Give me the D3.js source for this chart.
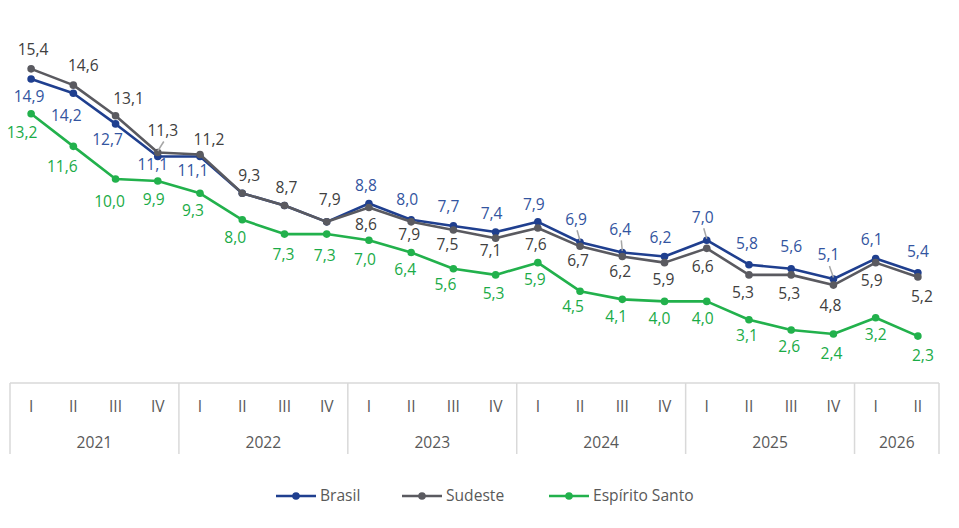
<!DOCTYPE html>
<html><head><meta charset="utf-8">
<script src="https://cdn.jsdelivr.net/npm/d3@7"></script>
<style>
html,body{margin:0;padding:0;background:#fff;}
svg{display:block;font-family:"Open Sans","Noto Sans",sans-serif;}
</style></head>
<body><svg id="c" width="959" height="528"></svg>
<script>
// ---- data ----
const years = ["2021","2022","2023","2024","2025","2026"];
const quartersPerYear = [4,4,4,4,4,2];
const quarterNames = ["I","II","III","IV"];
const seriesNames = ["Brasil","Sudeste","Espírito Santo"];
const brasil  = [14.9,14.2,12.7,11.1,11.1,9.3,8.7,7.9,8.8,8.0,7.7,7.4,7.9,6.9,6.4,6.2,7.0,5.8,5.6,5.1,6.1,5.4];
const sudeste = [15.4,14.6,13.1,11.3,11.2,9.3,8.7,7.9,8.6,7.9,7.5,7.1,7.6,6.7,6.2,5.9,6.6,5.3,5.3,4.8,5.9,5.2];
const espirito= [13.2,11.6,10.0,9.9,9.3,8.0,7.3,7.3,7.0,6.4,5.6,5.3,5.9,4.5,4.1,4.0,4.0,3.1,2.6,2.4,3.2,2.3];

// ---- layout: label offsets (dx,dy) relative to each point; null = hidden ----
const brasilLbl = [[-2,17],[-7,22],[-8,16],[-5,8],[-7,14],null,null,null,[-3,-18],[-4,-20],[-5,-19],[-4,-19],[-4,-17],[-4,-23],[-2,-23],[-4,-19],[-4,-23],[-2,-21],[0,-22],[-5,-24],[-4,-19],[0,-21]];
const brasilLeader = [13,14,16,19];
const sudLbl = [[2,-19],[10,-20],[13,-17],[5,-22],[9,-15],[7,-18],[2,-18],[3,-22],[-3,17],[-2,13],[-6,15],[-5,12],[-2,17],[-2,14],[-2,15],[-1,17],[-4,18],[-6,18],[-2,19],[-3,20],[-4,18],[4,20]];
const sudLeader = [3];
const esLbl = [[-9,19],[-11,20],[-6,23],[-4,18],[-7,17],[-7,18],[-1,20],[-2,21],[-4,19],[-6,17],[-8,16],[-2,19],[-3,17],[-7,15],[-6,17],[-5,17],[-4,17],[-2,16],[-2,17],[-2,19],[0,17],[5,19]];

const colors = {line:["#1f3f8f","#5a5a60","#22b14c"], text:["#3355a0","#404040","#1aab47"]};
const FS = 15.6;

const svg = d3.select("#c");
const quarters = [];
years.forEach((y,yi)=>{ for(let q=0;q<quartersPerYear[yi];q++) quarters.push(y+"-"+quarterNames[q]); });

const x = d3.scaleBand().domain(quarters).range([10,939]).padding(0);
const cx = d => x(d) + x.bandwidth()/2;
const y = d3.scaleLinear().domain([0,18]).range([383, 383-18*20.4]);

// ---- axis ----
const axisG = svg.append("g");
axisG.append("line").attr("x1",10).attr("x2",939).attr("y1",383).attr("y2",383)
  .attr("stroke","#d9d9d9").attr("stroke-width",1.5);
let idx=0;
const bounds=[10];
years.forEach((yr,yi)=>{
  const first = quarters[idx], last = quarters[idx+quartersPerYear[yi]-1];
  const x0 = x(first), x1 = x(last)+x.bandwidth();
  bounds.push(x1);
  axisG.append("text").attr("x",(x0+x1)/2).attr("y",443).attr("dy","0.35em")
    .attr("text-anchor","middle").attr("fill","#595959").attr("font-size",FS).text(yr);
  idx += quartersPerYear[yi];
});
bounds.forEach(b=>axisG.append("line").attr("x1",b).attr("x2",b).attr("y1",383).attr("y2",454)
  .attr("stroke","#d9d9d9").attr("stroke-width",1.5));
quarters.forEach(q=>{
  axisG.append("text").attr("x",cx(q)).attr("y",407).attr("dy","0.35em")
    .attr("text-anchor","middle").attr("fill","#595959").attr("font-size",FS).text(q.split("-")[1]);
});

// ---- lines ----
const allSeries = [brasil, sudeste, espirito];
const line = d3.line().x((d,i)=>cx(quarters[i])).y(d=>y(d));
[0,1,2].forEach(s=>{
  const vals = allSeries[s];
  svg.append("path").datum(vals).attr("d",line).attr("fill","none")
    .attr("stroke",colors.line[s]).attr("stroke-width",2.6).attr("stroke-linejoin","round");
  svg.append("g").selectAll("circle").data(vals).join("circle")
    .attr("cx",(d,i)=>cx(quarters[i])).attr("cy",d=>y(d)).attr("r",3.8)
    .attr("fill",colors.line[s]);
});

// ---- labels ----
const fmt = v => d3.format(".1f")(v).replace(".",",");
const lblSets = [[brasil,brasilLbl,brasilLeader],[sudeste,sudLbl,sudLeader],[espirito,esLbl,[]]];
lblSets.forEach(([vals,offs,leaders],s)=>{
  vals.forEach((v,i)=>{
    const o = offs[i]; if(!o) return;
    const px = cx(quarters[i]), py = y(v);
    const lx = px+o[0], ly = py+o[1];
    if(leaders.includes(i)){
      svg.append("line").attr("x1",lx+1).attr("y1",ly+11).attr("x2",px).attr("y2",py-1.5)
        .attr("stroke","#a6a6a6").attr("stroke-width",1.5);
    }
    svg.append("text").attr("x",lx).attr("y",ly).attr("dy","0.35em").attr("text-anchor","middle")
      .attr("fill",colors.text[s]).attr("font-size",FS).text(fmt(v));
  });
});

// ---- legend ----
const legX = [276,402,549];
seriesNames.forEach((n,s)=>{
  const g = svg.append("g");
  g.append("line").attr("x1",legX[s]).attr("x2",legX[s]+40).attr("y1",496).attr("y2",496)
    .attr("stroke",colors.line[s]).attr("stroke-width",2.6);
  g.append("circle").attr("cx",legX[s]+20).attr("cy",496).attr("r",3.8).attr("fill",colors.line[s]);
  g.append("text").attr("x",legX[s]+44).attr("y",496).attr("dy","0.35em").attr("fill","#595959")
    .attr("font-size",FS).text(n);
});
</script></body></html>
